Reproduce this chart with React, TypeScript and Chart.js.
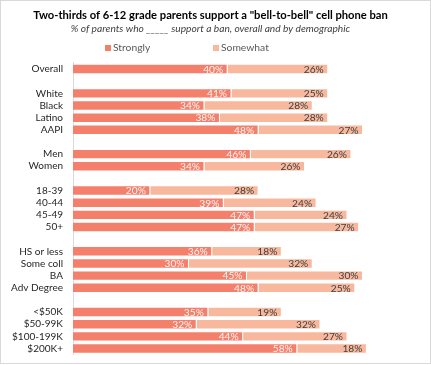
import React, { useEffect, useRef } from "react";
import { Chart, registerables } from "chart.js";

Chart.register(...registerables);

const categories = ["Overall", " ", "White", "Black", "Latino", "AAPI", "  ", "Men", "Women", "   ", "18-39", "40-44", "45-49", "50+", "    ", "HS or less", "Some coll", "BA", "Adv Degree", "     ", "<$50K", "$50-99K", "$100-199K", "$200K+"];
const strongly = [40, null, 41, 34, 38, 48, null, 46, 34, null, 20, 39, 47, 47, null, 36, 30, 45, 48, null, 35, 32, 44, 58];
const somewhat = [26, null, 25, 28, 28, 27, null, 26, 26, null, 28, 24, 24, 27, null, 18, 32, 30, 25, null, 19, 32, 27, 18];
const seriesNames = ["Strongly", "Somewhat"];
const titleText = 'Two-thirds of 6-12 grade parents support a "bell-to-bell" cell phone ban';
const subtitleText = "% of parents who _____ support a ban, overall and by demographic";

const STRONG = "#F4806C";
const SOME = "#F7B89D";
const FONT = "Lato";

const labelPlugin = {
  id: "barLabels",
  afterDatasetsDraw(chart: any) {
    const ctx = chart.ctx;
    ctx.save();
    ctx.font = `10.2px ${FONT}`;
    ctx.textAlign = "right";
    ctx.textBaseline = "middle";
    chart.data.datasets.forEach((ds: any, di: number) => {
      const meta = chart.getDatasetMeta(di);
      meta.data.forEach((el: any, i: number) => {
        const v = ds.data[i];
        if (v === null || v === undefined) return;
        ctx.fillStyle = di === 0 ? "rgba(255,255,255,0.9)" : "#404040";
        ctx.fillText(v + "%", el.x - 4.5, el.y + 0.5);
      });
    });
    ctx.restore();
  },
};

const legendPlugin = {
  id: "customLegend",
  afterDraw(chart: any) {
    const ctx = chart.ctx;
    const xs = [105, 213];
    const y = 48;
    ctx.save();
    ctx.font = `10.3px ${FONT}`;
    ctx.textBaseline = "middle";
    ctx.textAlign = "left";
    chart.data.datasets.forEach((ds: any, i: number) => {
      ctx.fillStyle = ds.backgroundColor;
      ctx.fillRect(xs[i], y - 3, 6, 6);
      ctx.fillStyle = "#595959";
      ctx.fillText(ds.label, xs[i] + 8, y);
    });
    ctx.restore();
  },
};

export default function App() {
  const ref = useRef<HTMLCanvasElement>(null);
  useEffect(() => {
    document.body.style.margin = "0";
    const chart = new Chart(ref.current!, {
      type: "bar",
      data: {
        labels: categories,
        datasets: [
          { label: seriesNames[0], data: strongly, backgroundColor: STRONG, borderColor: "rgba(255,255,255,0.35)", borderWidth: 1, barPercentage: 0.86, categoryPercentage: 1 },
          { label: seriesNames[1], data: somewhat, backgroundColor: SOME, borderColor: "rgba(255,255,255,0.35)", borderWidth: 1, barPercentage: 0.86, categoryPercentage: 1 },
        ],
      },
      options: {
        indexAxis: "y",
        animation: false,
        responsive: false,
        maintainAspectRatio: false,
        layout: { padding: { left: 0, right: 10, top: 0, bottom: 10.4 } },
        plugins: {
          legend: { display: false },
          tooltip: { enabled: false },
          title: {
            display: true,
            text: titleText,
            color: "#000000",
            font: { family: FONT, size: 11.2, weight: "bold", lineHeight: 1.2 },
            padding: { top: 8.4, bottom: 0 },
          },
          subtitle: {
            display: true,
            text: subtitleText,
            color: "#404040",
            font: { family: FONT, size: 10.2, style: "italic", lineHeight: 1.2 },
            padding: { top: 1.2, bottom: 27.7 },
          },
        },
        scales: {
          x: { stacked: true, display: false, min: 0, max: 90 },
          y: {
            stacked: true,
            grid: { display: false, drawTicks: false },
            border: { display: true, color: "#D9D9D9" },
            ticks: { color: "#262626", font: { family: FONT, size: 10 }, padding: 10, autoSkip: false },
            afterFit: (s: any) => { s.width = 73; s.paddingTop = 0; s.paddingBottom = 0; },
          },
        },
      },
      plugins: [labelPlugin, legendPlugin],
    });
    return () => chart.destroy();
  }, []);
  return (
    <div style={{ position: "relative", width: 431, height: 365 }}>
      <div style={{ position: "absolute", left: 0, top: 0, width: 431, height: 364, border: "1px solid #D9D9D9", boxSizing: "border-box" }} />
      <canvas ref={ref} width={431} height={365} style={{ position: "absolute", left: 0, top: 0 }} />
    </div>
  );
}
